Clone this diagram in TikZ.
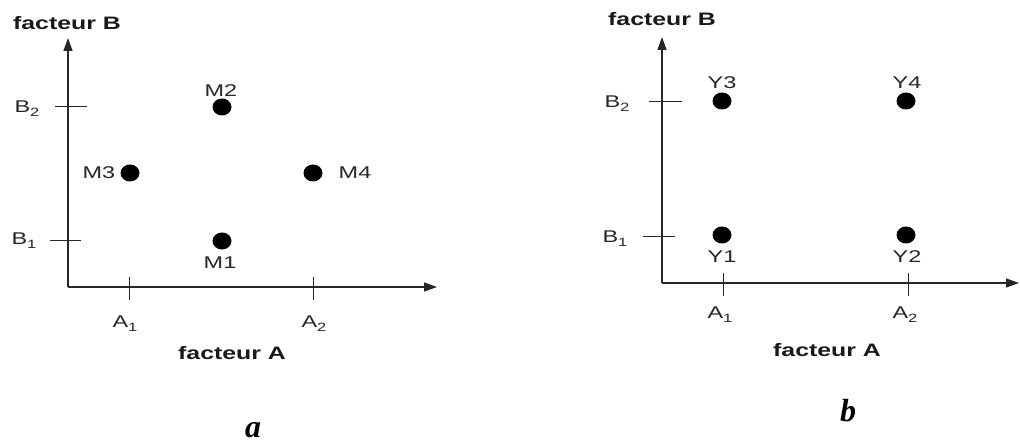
\documentclass[tikz,border=0pt]{standalone}
\usepackage{fontspec}
\usepackage{graphicx}
\newfontfamily\arialf{Liberation Sans}
\newfontfamily\serifbf{Liberation Serif}
\usetikzlibrary{arrows.meta,shapes.geometric}
\newcommand{\sx}[1]{\scalebox{1.38}[1]{#1}}
\newcommand{\subx}[1]{\raisebox{-0.45ex}{\fontsize{12}{12}\selectfont #1}}
\tikzset{
  axis/.style={line width=1.3pt, draw=black!85, -{Triangle[length=13pt,width=9pt]}},
  tickline/.style={line width=1pt, draw=black!85},
  dot/.style={ellipse, fill=black, inner sep=0pt, minimum width=19pt, minimum height=17pt},
  lab/.style={inner sep=0pt, text=black!85, font=\arialf\fontsize{17}{17}\selectfont},
  title/.style={inner sep=0pt, text=black!90, font=\arialf\bfseries\fontsize{18}{18}\selectfont},
  captionlbl/.style={inner sep=0pt, font=\serifbf\bfseries\itshape\fontsize{32}{32}\selectfont},
}
\begin{document}
\begin{tikzpicture}[x=1pt,y=-1pt]
\useasboundingbox (0,0) rectangle (1020,443);
% ---------------- diagram a ----------------
\coordinate (Oa) at (68,287);
\coordinate (Ya) at (68,38);
\coordinate (Xa) at (437,287);
\draw[axis] (Oa) -- (Ya);
\draw[axis] (Oa) -- (Xa);
\coordinate (aB2l) at (55,107); \coordinate (aB2r) at (87,107);
\coordinate (aB1l) at (50,241); \coordinate (aB1r) at (81,241);
\coordinate (aA1t) at (129,277); \coordinate (aA1b) at (129,300);
\coordinate (aA2t) at (313,277); \coordinate (aA2b) at (313,300);
\draw[tickline] (aB2l) -- (aB2r);
\draw[tickline] (aB1l) -- (aB1r);
\draw[tickline] (aA1t) -- (aA1b);
\draw[tickline] (aA2t) -- (aA2b);
\node[dot] (M2) at (222,107) {};
\node[dot] (M3) at (130,173) {};
\node[dot] (M4) at (313,173) {};
\node[dot] (M1) at (222,241) {};
\node[lab] (lM2) at (221,91) {\sx{M2}};
\node[lab] (lM3) at (99,173) {\sx{M3}};
\node[lab] (lM4) at (355,173) {\sx{M4}};
\node[lab] (lM1) at (220,263) {\sx{M1}};
\node[lab] (lB2a) at (27,109) {\sx{B\subx{2}}};
\node[lab] (lB1a) at (24,241) {\sx{B\subx{1}}};
\node[lab] (lA1a) at (125,324) {\sx{A\subx{1}}};
\node[lab] (lA2a) at (314,324) {\sx{A\subx{2}}};
\node[title] (fBa) at (67,23) {\sx{facteur B}};
\node[title] (fAa) at (232,353) {\sx{facteur A}};
\node[captionlbl] (capa) at (253,430) {a};
% ---------------- diagram b ----------------
\coordinate (Ob) at (662,283);
\coordinate (Yb) at (662,37);
\coordinate (Xb) at (1019,283);
\draw[axis] (Ob) -- (Yb);
\draw[axis] (Ob) -- (Xb);
\coordinate (bB2l) at (649,102); \coordinate (bB2r) at (682,102);
\coordinate (bB1l) at (643,237); \coordinate (bB1r) at (675,237);
\coordinate (bA1t) at (723,273); \coordinate (bA1b) at (723,296);
\coordinate (bA2t) at (908,273); \coordinate (bA2b) at (908,296);
\draw[tickline] (bB2l) -- (bB2r);
\draw[tickline] (bB1l) -- (bB1r);
\draw[tickline] (bA1t) -- (bA1b);
\draw[tickline] (bA2t) -- (bA2b);
\node[dot] (Y3) at (722,101) {};
\node[dot] (Y4) at (906,101) {};
\node[dot] (Y1) at (722,235) {};
\node[dot] (Y2) at (906,235) {};
\node[lab] (lY3) at (722,83) {\sx{Y3}};
\node[lab] (lY4) at (907,83) {\sx{Y4}};
\node[lab] (lY1) at (722,257) {\sx{Y1}};
\node[lab] (lY2) at (907,257) {\sx{Y2}};
\node[lab] (lB2b) at (617,104) {\sx{B\subx{2}}};
\node[lab] (lB1b) at (615,239) {\sx{B\subx{1}}};
\node[lab] (lA1b) at (720,315) {\sx{A\subx{1}}};
\node[lab] (lA2b) at (905,315) {\sx{A\subx{2}}};
\node[title] (fBb) at (662,19) {\sx{facteur B}};
\node[title] (fAb) at (827,350) {\sx{facteur A}};
\node[captionlbl] (capb) at (848,411) {b};
\end{tikzpicture}
\end{document}
